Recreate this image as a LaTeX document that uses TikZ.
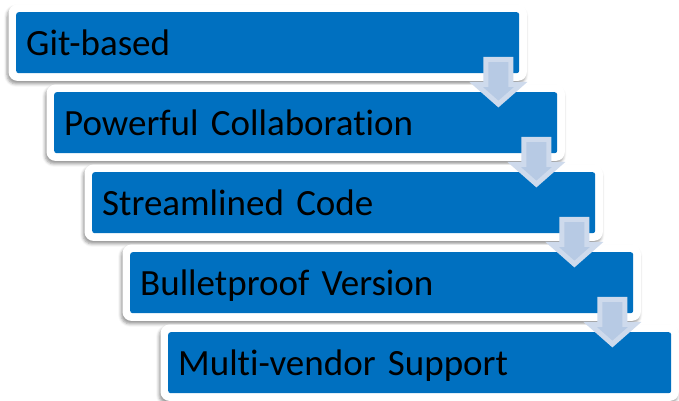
\documentclass[tikz,border=0pt]{standalone}
\usepackage{fontspec}
\setmainfont{Carlito}[Ligatures=NoCommon]
\usetikzlibrary{shadows.blur,calc,backgrounds}
\definecolor{boxblue}{RGB}{0,112,192}
\definecolor{arrowfill}{RGB}{183,202,228}
\definecolor{arrowedge}{RGB}{206,218,236}
\tikzset{
  stepframe/.style={fill=white, rounded corners=9pt,
    blur shadow={shadow xshift=-1.5pt, shadow yshift=-3pt,
                 shadow blur radius=3pt, shadow opacity=40}},
  stepbox/.style={fill=boxblue, rounded corners=2.5pt, text=black,
    anchor=north west, minimum height=61pt, text width=483pt,
    inner xsep=10pt, inner ysep=0pt, align=left,
    text height=30pt, text depth=5pt,
    font=\fontsize{37}{40}\selectfont},
  downarrow/.style={fill=arrowfill, draw=arrowedge, line width=5pt,
    line join=miter},
}
\begin{document}
\begin{tikzpicture}[x=1pt,y=-1pt]
  \useasboundingbox (0,0) rectangle (679,400);

  % the five steps, each shifted right and down
  \node[stepbox] (b1) at (16,12)  {Git-based};
  \node[stepbox] (b2) at (54,92)  {Powerful Collaboration};
  \node[stepbox] (b3) at (92,172) {Streamlined Code};
  \node[stepbox] (b4) at (130,252) {Bulletproof Version};
  \node[stepbox] (b5) at (168,332) {Multi-vendor Support};

  % white frames with a soft shadow behind each step
  \begin{scope}[on background layer]
    \foreach \b in {b1,b2,b3,b4,b5}
      \path[stepframe] ($(\b.north west)+(-7.5,-7.5)$) rectangle ($(\b.south east)+(7.5,7.5)$);
  \end{scope}

  % down arrows linking consecutive steps
  \foreach \a/\b in {b1/b2,b2/b3,b3/b4,b4/b5}{
    \coordinate (c\a) at ($(\a.south east)+(-21,0)$);
    \draw[downarrow, shift={(c\a)}]
      (-12.5,-14) -- (12.5,-14) -- (12.5,11) -- (22.4,11) -- (0,30.7)
      -- (-22.4,11) -- (-12.5,11) -- cycle;
  }
\end{tikzpicture}
\end{document}
